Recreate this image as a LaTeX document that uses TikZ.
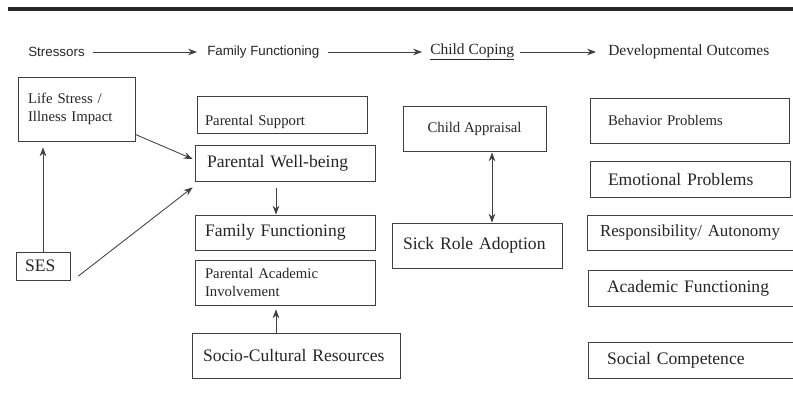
\documentclass[tikz,border=0pt]{standalone}
\usepackage{fontspec}
\setmainfont{Liberation Serif}
\setsansfont{Liberation Sans}
\usepackage{tikz}
\usetikzlibrary{arrows.meta}
\tikzset{
	box/.style={draw=black!75, line width=0.6pt, align=left, inner ysep=0pt, text=black!85},
	bigtext/.style={font=\fontsize{12.5}{14}\selectfont},
	smalltext/.style={font=\fontsize{10.5}{13}\selectfont},
	headtext/.style={anchor=west, inner sep=0pt, text=black!85},
	arr/.style={-{Stealth[scale=1.1]}, draw=black!75, line width=0.6pt}
}

\begin{document}
\begin{tikzpicture}
	\useasboundingbox (0,0) rectangle (19.825,-10);
	\fill[white] (0,0) rectangle (19.825,-10);
	\draw[line width=2.4pt, black!85] (0.2,-0.225) to (19.825,-0.225);

	% header row
	\node[headtext, font=\sffamily\fontsize{9.5}{11}\selectfont] at (0.7,-1.3) (stressors) {Stressors};
	\node[headtext, font=\sffamily\fontsize{9.5}{11}\selectfont] at (5.175,-1.3) (fam-head) {Family Functioning};
	\node[headtext, font=\fontsize{11}{13}\selectfont] at (10.75,-1.3) (child-head) {\underline{Child Coping}};
	\node[headtext, font=\fontsize{11}{13}\selectfont] at (15.2,-1.3) (dev-head) {Developmental Outcomes};
	\draw[arr, shorten <=0.2cm, shorten >=0.25cm] (stressors.east) to (fam-head.west);
	\draw[arr, shorten <=0.2cm, shorten >=0.2cm] (fam-head.east) to (child-head.west);
	\draw[arr, shorten <=0.15cm, shorten >=0.3cm] (child-head.east) to (dev-head.west);

	% stressors
	\node[box, smalltext, text width=2.425cm, inner xsep=0.25cm, minimum height=1.6cm] at (1.9125,-2.725) (life) {Life Stress /\\Illness Impact};
	\node[box, bigtext, text width=0.9cm, inner xsep=0.225cm, minimum height=0.7cm] at (1.075,-6.65) (ses) {SES};

	% family functioning
	\node[box, smalltext, text width=3.85cm, inner xsep=0.2cm, minimum height=0.925cm, text height=0.62cm] at (7.05,-2.8625) (par-support) {Parental Support};
	\node[box, bigtext, text width=3.9cm, inner xsep=0.3cm, minimum height=0.9cm] at (7.125,-4.075) (par-wellbeing) {Parental Well-being};
	\node[box, bigtext, text width=4cm, inner xsep=0.25cm, minimum height=0.875cm] at (7.125,-5.8125) (fam-func) {Family Functioning};
	\node[box, smalltext, text width=4cm, inner xsep=0.25cm, minimum height=1.125cm] at (7.125,-7.0625) (par-academic) {Parental Academic\\Involvement};
	\node[box, bigtext, text width=4.65cm, inner xsep=0.275cm, minimum height=1.125cm] at (7.4,-8.8875) (socio-cult) {Socio-Cultural Resources};

	% child coping
	\node[box, smalltext, align=center, minimum width=3.575cm, minimum height=1.125cm] at (11.8625,-3.2125) (appraisal) {Child Appraisal};
	\node[box, bigtext, text width=3.7cm, inner xsep=0.275cm, minimum height=1.125cm] at (11.925,-6.1375) (sick-role) {Sick Role Adoption};

	% developmental outcomes
	\node[box, smalltext, text width=4.075cm, inner xsep=0.45cm, minimum height=1.125cm] at (17.2375,-3.0125) (behavior) {Behavior Problems};
	\node[box, bigtext, text width=4.1cm, inner xsep=0.45cm, minimum height=0.9cm] at (17.25,-4.475) (emotional) {Emotional Problems};
	\node[box, font=\fontsize{12}{14}\selectfont, text width=4.575cm, inner xsep=0.325cm, minimum height=0.875cm] at (17.2875,-5.8125) (autonomy) {\mbox{Responsibility/ Autonomy}};
	\node[box, bigtext, text width=4.25cm, inner xsep=0.475cm, minimum height=0.9cm] at (17.3,-7.2) (academic) {Academic Functioning};
	\node[box, bigtext, text width=4.25cm, inner xsep=0.475cm, minimum height=0.9cm] at (17.3,-9.0) (social) {Social Competence};

	% links
	\draw[arr, shorten >=0.15cm] (ses.north) to (ses.north |- life.south);
	\draw[arr] ([yshift=0.175cm]life.south east) to ([shift={(-0.05cm,0.1cm)}]par-wellbeing.west);
	\draw[arr] ([shift={(0.2cm,-0.25cm)}]ses.east) to ([shift={(-0.05cm,-0.15cm)}]par-wellbeing.south west);
	\draw[arr] ([shift={(-0.225cm,-0.175cm)}]par-wellbeing.south) to ([xshift=-0.225cm]fam-func.north);
	\draw[arr] ([xshift=-0.5cm]socio-cult.north) to ([xshift=-0.5cm,yshift=-0.1cm]socio-cult.north |- par-academic.south);
	\draw[{Stealth[scale=1.1]}-{Stealth[scale=1.1]}, draw=black!75, line width=0.6pt] ([shift={(0.4375cm,-0.025cm)}]appraisal.south) to ([xshift=0.4375cm]appraisal.south |- sick-role.north);
\end{tikzpicture}
\end{document}
